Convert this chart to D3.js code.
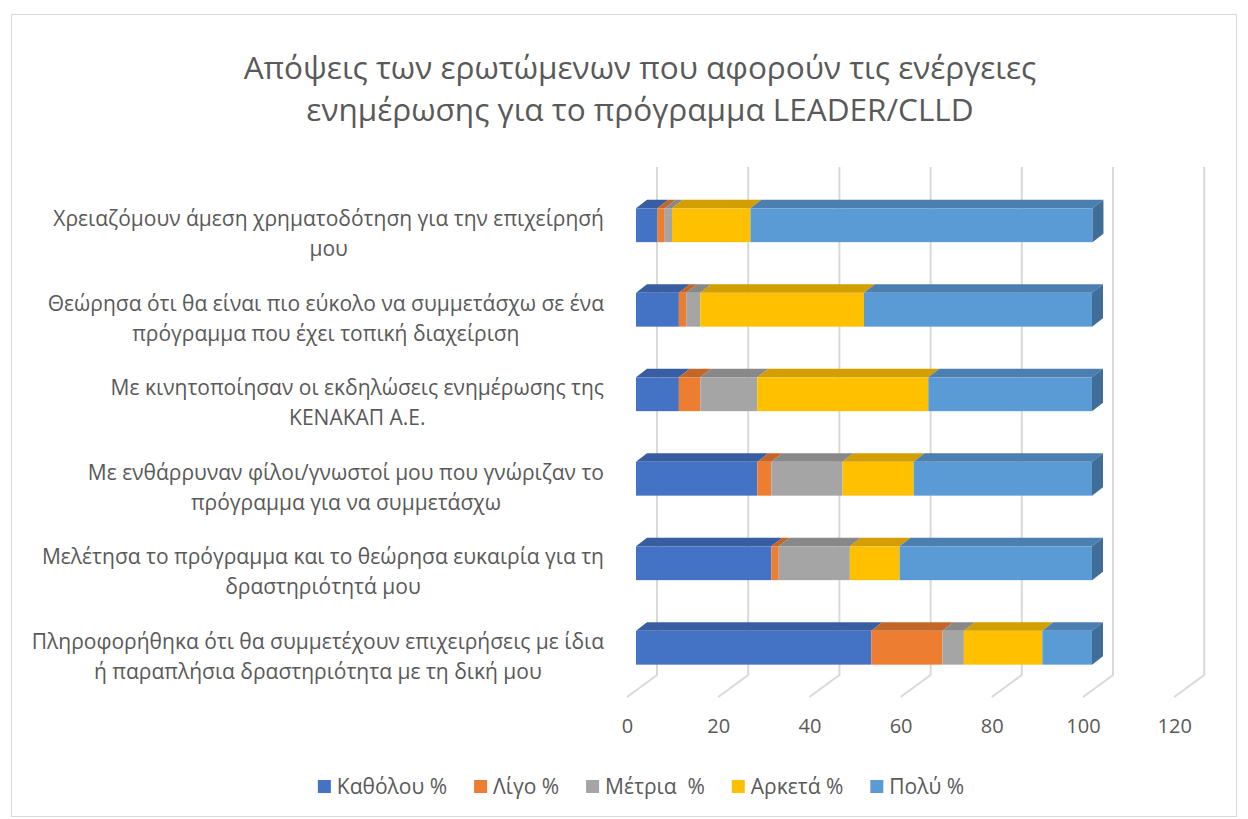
<!doctype html>
<html>
<head>
<meta charset="UTF-8">
<script src="https://cdn.jsdelivr.net/npm/d3@7"></script>
<style>
  body { margin: 0; background: #fff; }
  text { font-family: "Open Sans", "Noto Sans", sans-serif; fill: #595959; }
</style>
</head>
<body>
<svg id="chart"></svg>
<script>
  // categories, top to bottom as shown
  let categories = [
    ["Χρειαζόμουν άμεση χρηματοδότηση για την επιχείρησή", "μου"],
    ["Θεώρησα ότι θα είναι πιο εύκολο να συμμετάσχω σε ένα", "πρόγραμμα που έχει τοπική διαχείριση"],
    ["Με κινητοποίησαν οι εκδηλώσεις ενημέρωσης της", "ΚΕΝΑΚΑΠ Α.Ε."],
    ["Με ενθάρρυναν φίλοι/γνωστοί μου που γνώριζαν το", "πρόγραμμα για να συμμετάσχω"],
    ["Μελέτησα το πρόγραμμα και το θεώρησα ευκαιρία για τη", "δραστηριότητά μου"],
    ["Πληροφορήθηκα ότι θα συμμετέχουν επιχειρήσεις με ίδια", "ή παραπλήσια δραστηριότητα με τη δική μου"]
  ];
  let seriesNames = ["Καθόλου %", "Λίγο %", "Μέτρια  %", "Αρκετά %", "Πολύ %"];
  let katholou = [4.7, 9.4, 9.4, 26.6, 29.7, 51.6];
  let ligo     = [1.6, 1.6, 4.7, 3.1, 1.6, 15.6];
  let metria   = [1.6, 3.1, 12.5, 15.6, 15.6, 4.7];
  let arketa   = [17.2, 35.9, 37.5, 15.6, 10.9, 17.2];
  let poly     = [75.0, 50.0, 35.9, 39.1, 42.2, 10.9];
  let xTicks = [0, 20, 40, 60, 80, 100, 120];
  let title = ["Απόψεις των ερωτώμενων που αφορούν τις ενέργειες", "ενημέρωσης για το πρόγραμμα LEADER/CLLD"];

  let colors = ["#4472C4", "#ED7D31", "#A5A5A5", "#FFC000", "#5B9BD5"];
  let values = [katholou, ligo, metria, arketa, poly];

  let W = 1248, H = 819;
  let svg = d3.select("#chart").attr("width", W).attr("height", H);

  svg.append("rect")
     .attr("x", 11.5).attr("y", 14.5)
     .attr("width", 1225).attr("height", 802)
     .attr("fill", "#fff").attr("stroke", "#d9d9d9");

  // 3d geometry: floor depth and bar depth
  let floorFront = 697, floorBack = 675, wallTop = 167;
  let depthX = 30;            // floor front -> back wall
  let barOff = 9;             // floor front -> bar front face
  let barDx = 11, barDy = -8.5;

  let x = d3.scaleLinear().domain([0, 120]).range([636, 636 + 4.56 * 120]);
  let y = d3.scaleBand().domain(d3.range(categories.length))
            .range([183, 690]).paddingInner(0.6).paddingOuter(0.3);

  // gridlines: back wall + floor
  let grid = svg.append("g");
  xTicks.forEach(function(t){
    let xb = x(t) - barOff + depthX;
    grid.append("path")
        .attr("d", "M" + xb + "," + wallTop + "V" + floorBack + "L" + (xb - depthX) + "," + floorFront)
        .attr("fill", "none").attr("stroke", "#d9d9d9").attr("stroke-width", 2);
  });

  // tick labels
  let xAxis = d3.axisBottom(d3.scaleLinear().domain([0, 120]).range([x(0) - barOff, x(120) - barOff]))
                .tickValues(xTicks).tickSize(0).tickPadding(0);
  let ax = svg.append("g").attr("transform", "translate(0,719)").call(xAxis);
  ax.select(".domain").remove();
  ax.selectAll("text").style("font-size", "20px").attr("fill", "#595959")
    .style("font-family", "'Open Sans', sans-serif");

  // stacked bars
  let stackData = categories.map(function(c, i){
    let row = {};
    seriesNames.forEach(function(s, j){ row[j] = values[j][i]; });
    return row;
  });
  let stacked = d3.stack().keys(d3.range(seriesNames.length))(stackData);

  let bars = svg.append("g");
  let labels = svg.append("g");
  categories.forEach(function(c, i){
    let g = bars.append("g");
    let y0 = y(i), bh = y.bandwidth();
    stacked.forEach(function(layer, j){
      let d = layer[i];
      let x0 = x(d[0]), x1 = x(d[1]);
      let col = d3.color(colors[j]);
      g.append("rect")
       .attr("x", x0).attr("y", y0).attr("width", x1 - x0).attr("height", bh)
       .attr("fill", colors[j]);
      g.append("path")
       .attr("d", "M" + x0 + "," + y0 + "L" + (x0 + barDx) + "," + (y0 + barDy) +
                  "L" + (x1 + barDx) + "," + (y0 + barDy) + "L" + x1 + "," + y0 + "Z")
       .attr("fill", col.darker(0.55));
      if (j === stacked.length - 1) {
        g.append("path")
         .attr("d", "M" + x1 + "," + y0 + "L" + (x1 + barDx) + "," + (y0 + barDy) +
                    "L" + (x1 + barDx) + "," + (y0 + bh + barDy) + "L" + x1 + "," + (y0 + bh) + "Z")
         .attr("fill", col.darker(0.95));
      }
    });

    // category label, two lines, second centred under the first
    let cy = y0 + bh / 2 + 9;
    let t = labels.append("text").attr("text-anchor", "middle").style("font-size", "21px");
    let s0 = t.append("tspan").attr("y", cy - 8).text(c[0]);
    let s1 = t.append("tspan").attr("y", cy + 22).text(c[1]);
    let mid = 604 - s0.node().getComputedTextLength() / 2;
    s0.attr("x", mid);
    s1.attr("x", mid);
  });

  // title
  let tt = svg.append("text").attr("text-anchor", "middle").style("font-size", "31.5px");
  tt.append("tspan").attr("x", 640).attr("y", 79).text(title[0]);
  tt.append("tspan").attr("x", 640).attr("y", 121).text(title[1]);

  // legend
  let leg = svg.append("g");
  let lx = 0;
  seriesNames.forEach(function(s, j){
    let item = leg.append("g").attr("transform", "translate(" + lx + ",0)");
    item.append("rect").attr("x", 0).attr("y", -7).attr("width", 13).attr("height", 13).attr("fill", colors[j]);
    let tx = item.append("text").attr("x", 19).attr("y", 7)
                 .style("font-size", "21px").style("white-space", "pre").text(s);
    lx += 19 + tx.node().getComputedTextLength() + 27;
  });
  lx -= 27;
  leg.attr("transform", "translate(" + (641 - lx / 2) + ",787)");
</script>
</body>
</html>
